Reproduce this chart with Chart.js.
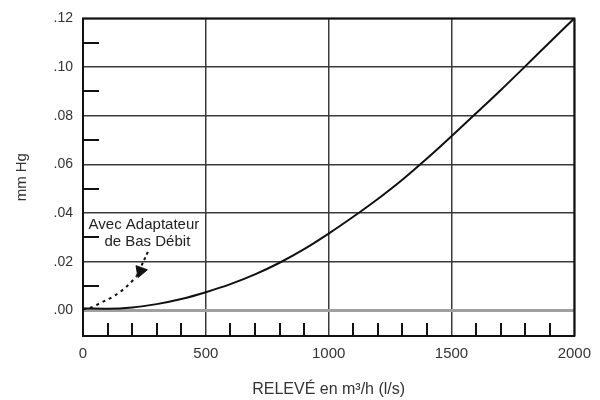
<!DOCTYPE html>
<html>
<head>
<meta charset="utf-8">
<script src="https://cdn.jsdelivr.net/npm/chart.js@4"></script>
<style>
  html, body { margin: 0; padding: 0; background: #fff; }
</style>
</head>
<body>
<canvas id="myChart" width="600" height="400"></canvas>
<script>
// main curve
const flow = [0, 100, 200, 300, 400, 500, 600, 700, 800, 900, 1000, 1100, 1200, 1300, 1400, 1500, 1600, 1700, 1800, 1900, 2000];
const pressure = [0.0008, 0.0007, 0.0012, 0.0026, 0.0047, 0.0075, 0.0108, 0.0148, 0.0196, 0.0252, 0.0316, 0.0385, 0.0458, 0.0537, 0.0624, 0.0716, 0.081, 0.0905, 0.1003, 0.1102, 0.12];

// low flow adapter (dashed)
const lowFlow = [0, 20, 80, 132, 180, 218];
const lowPressure = [0.0006, 0.0008, 0.0035, 0.0063, 0.01, 0.014];

// arrow from the note down to the dashed curve
const arrowFlow = [218, 266];
const arrowPressure = [0.014, 0.0245];
const arrowHeadFlow = [234];
const arrowHeadPressure = [0.0162];

const xTicks = [0, 500, 1000, 1500, 2000];
const yTicks = [0, 0.02, 0.04, 0.06, 0.08, 0.10, 0.12];
const xMinor = [100, 200, 300, 400, 600, 700, 800, 900, 1100, 1200, 1300, 1400, 1600, 1700, 1800, 1900];
const yMinor = [0.01, 0.03, 0.05, 0.07, 0.09, 0.11];
const noteLines = ["Avec Adaptateur", "de Bas Débit"];

const FONT = "'Liberation Sans', Arial, sans-serif";
const toPoints = (xs, ys) => xs.map((x, i) => ({ x: x, y: ys[i] }));

const extras = {
  id: "extras",
  afterDatasetsDraw(chart) {
    const c = chart.ctx;
    const xs = chart.scales.x;
    const ys = chart.scales.y;
    const a = chart.chartArea;
    c.save();
    c.strokeStyle = "#111";
    c.lineWidth = 2;
    // minor ticks along the bottom
    xMinor.forEach((v) => {
      const px = Math.round(xs.getPixelForValue(v));
      c.beginPath();
      c.moveTo(px, a.bottom);
      c.lineTo(px, a.bottom - 13);
      c.stroke();
    });
    // minor ticks on the left
    yMinor.forEach((v) => {
      const py = Math.round(ys.getPixelForValue(v));
      c.beginPath();
      c.moveTo(a.left, py);
      c.lineTo(a.left + 16, py);
      c.stroke();
    });
    // frame
    c.strokeRect(a.left, a.top, a.right - a.left, a.bottom - a.top);

    // note text
    c.fillStyle = "#222";
    c.font = "15px " + FONT;
    c.textAlign = "center";
    c.textBaseline = "middle";
    c.fillText(noteLines[0], xs.getPixelForValue(248), ys.getPixelForValue(0.0350));
    c.fillText(noteLines[1], xs.getPixelForValue(262), ys.getPixelForValue(0.0280));
    c.restore();
  },
};

const chart = new Chart(document.getElementById("myChart"), {
  type: "scatter",
  data: {
    datasets: [
      {
        data: toPoints(flow, pressure),
        showLine: true,
        borderColor: "#111",
        borderWidth: 2,
        pointRadius: 0,
        cubicInterpolationMode: "monotone",
      },
      {
        data: toPoints(lowFlow, lowPressure),
        showLine: true,
        borderColor: "#111",
        borderWidth: 2,
        borderDash: [3, 4],
        pointRadius: 0,
        cubicInterpolationMode: "monotone",
      },
      {
        data: toPoints(arrowFlow, arrowPressure),
        showLine: true,
        borderColor: "#111",
        borderWidth: 2,
        borderDash: [3, 3],
        pointRadius: 0,
      },
      {
        data: toPoints(arrowHeadFlow, arrowHeadPressure),
        pointStyle: "triangle",
        pointRadius: 7,
        rotation: 200,
        backgroundColor: "#111",
        borderColor: "#111",
      },
    ],
  },
  options: {
    responsive: false,
    animation: false,
    layout: { padding: { top: 15, right: 19, left: 0, bottom: 0 } },
    plugins: { legend: { display: false }, tooltip: { enabled: false } },
    scales: {
      x: {
        type: "linear",
        min: 0,
        max: 2000,
        afterBuildTicks: (s) => { s.ticks = xTicks.map((v) => ({ value: v })); },
        afterFit: (s) => { s.height = 64; },
        border: { display: false },
        grid: {
          drawTicks: false,
          color: "#3a3a3a",
          lineWidth: 1.5,
        },
        ticks: {
          padding: 9,
          color: "#333",
          font: { family: FONT, size: 15 },
          callback: (v) => String(v),
        },
        title: {
          display: true,
          text: "RELEVÉ en m³/h (l/s)",
          color: "#333",
          padding: { top: 0, bottom: 1 },
          font: { family: FONT, size: 16 },
        },
      },
      y: {
        min: -0.0105,
        max: 0.12,
        afterBuildTicks: (s) => { s.ticks = yTicks.map((v) => ({ value: v })); },
        afterFit: (s) => { s.width = 83; },
        border: { display: false },
        grid: {
          drawTicks: false,
          color: (ctx) => (ctx.tick && ctx.tick.value === 0 ? "#a0a0a0" : "#3a3a3a"),
          lineWidth: (ctx) => (ctx.tick && ctx.tick.value === 0 ? 3 : 1.5),
        },
        ticks: {
          padding: 10,
          color: "#333",
          font: { family: FONT, size: 14 },
          callback: (v) => v.toFixed(2).replace(/^-?0/, ""),
        },
        title: {
          display: true,
          text: "mm Hg",
          color: "#333",
          padding: { top: 13, bottom: 0 },
          font: { family: FONT, size: 15 },
        },
      },
    },
  },
  plugins: [extras],
});
</script>
</body>
</html>
